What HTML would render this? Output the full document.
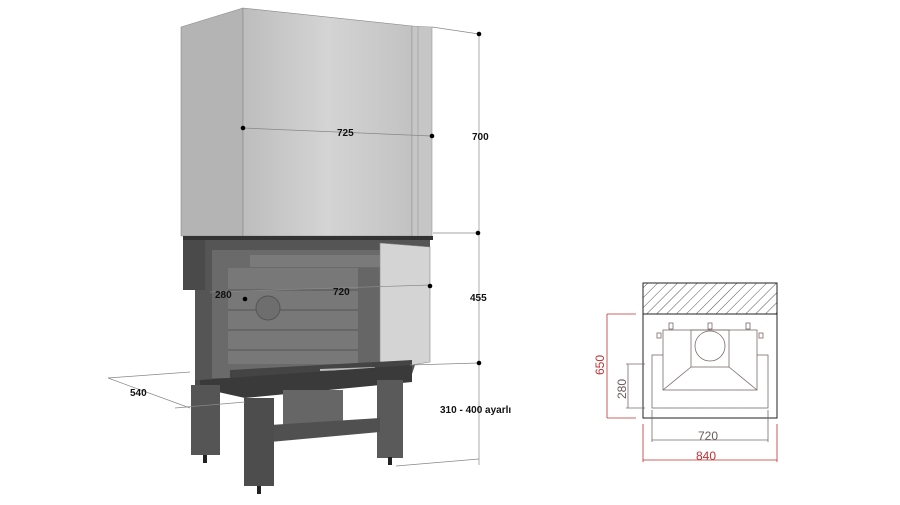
<!DOCTYPE html>
<html><head><style>body{margin:0;background:#fff}svg{display:block}text{font-family:"Liberation Sans",sans-serif}</style></head><body>
<svg width="900" height="505" viewBox="0 0 900 505">
<defs>
<linearGradient id="hf" x1="0" x2="1"><stop offset="0" stop-color="#bdbdbd"/><stop offset=".5" stop-color="#d4d4d4"/><stop offset="1" stop-color="#c2c2c2"/></linearGradient>
<pattern id="hatch" width="7" height="7" patternUnits="userSpaceOnUse" patternTransform="rotate(45)"><line x1="0" y1="0" x2="0" y2="7" stroke="#555" stroke-width="1"/></pattern>
</defs>
<!-- hood -->
<polygon points="181,27 243,8 243,236 181,236" fill="#b4b4b4" stroke="#888" stroke-width=".6"/>
<polygon points="243,8 412,26 412,236 243,236" fill="url(#hf)" stroke="#888" stroke-width=".6"/>
<polygon points="412,26 432,27 432,236 412,236" fill="#c6c6c6" stroke="#999" stroke-width=".6"/>
<line x1="418" y1="26" x2="418" y2="236" stroke="#999" stroke-width=".6"/>
<!-- firebox -->
<rect x="183" y="236" width="250" height="4" fill="#333"/>
<polygon points="183,240 210,240 210,390 195,385 195,290 183,290" fill="#4a4a4a"/>
<rect x="195" y="290" width="15" height="90" fill="#555"/>
<polygon points="205,240 430,240 430,250 415,250 415,365 410,380 230,390 205,385" fill="#555"/>
<rect x="212" y="250" width="200" height="128" fill="#6a6a6a"/>
<rect x="250" y="255" width="150" height="12" fill="#7a7a7a"/>
<rect x="228" y="268" width="130" height="96" fill="#787878"/>
<g stroke="#5c5c5c" stroke-width="1.2"><line x1="228" y1="290" x2="358" y2="290"/><line x1="228" y1="310" x2="358" y2="310"/><line x1="228" y1="330" x2="358" y2="330"/><line x1="228" y1="350" x2="358" y2="350"/></g>
<circle cx="268" cy="308" r="12" fill="#6e6e6e" stroke="#555"/>
<rect x="358" y="268" width="22" height="100" fill="#666"/>
<polygon points="380,243 430,247 430,362 380,370" fill="#d4d4d4" stroke="#888" stroke-width=".6"/>
<polygon points="230,370 412,360 412,378 230,392" fill="#444"/>
<line x1="320" y1="370" x2="375" y2="368" stroke="#bbb" stroke-width="2"/>
<polygon points="200,380 412,365 412,382 245,398 200,388" fill="#3a3a3a"/>
<!-- legs -->
<rect x="191" y="385" width="29" height="70" fill="#555"/>
<rect x="377" y="380" width="26" height="78" fill="#5a5a5a"/>
<rect x="283" y="390" width="60" height="35" fill="#666"/>
<polygon points="270,425 380,418 380,432 270,442" fill="#505050"/>
<rect x="244" y="398" width="30" height="88" fill="#4d4d4d"/>
<g fill="#222"><rect x="203" y="455" width="4" height="8"/><rect x="257" y="486" width="4" height="8"/><rect x="388" y="457" width="4" height="8"/></g>
<!-- dimensions -->
<g stroke="#888" stroke-width=".7" fill="none">
<line x1="243" y1="128" x2="432" y2="136"/>
<line x1="432" y1="27" x2="479" y2="34"/>
<line x1="479" y1="34" x2="479" y2="465"/>
<line x1="433" y1="233" x2="479" y2="233"/>
<line x1="430" y1="285" x2="210" y2="292"/>
<line x1="410" y1="365" x2="479" y2="363"/>
<line x1="396" y1="466" x2="479" y2="459"/>
<line x1="108" y1="378" x2="190" y2="372"/>
<line x1="108" y1="378" x2="190" y2="408"/>
<line x1="175" y1="408" x2="245" y2="402"/>
</g>
<g fill="#000"><circle cx="243" cy="128" r="2.3"/><circle cx="432" cy="136" r="2.3"/><circle cx="479" cy="34" r="2.3"/><circle cx="478" cy="233" r="2.3"/><circle cx="479" cy="363" r="2.3"/><circle cx="430" cy="286" r="2.3"/><circle cx="245" cy="299" r="2.3"/></g>
<g font-size="10" font-weight="bold" fill="#111">
<text x="337" y="136">725</text><text x="472" y="140">700</text><text x="470" y="301">455</text>
<text x="215" y="298">280</text><text x="333" y="295">720</text><text x="130" y="396">540</text>
<text x="440" y="413">310 - 400 ayarlı</text></g>
<!-- plan -->
<rect x="643" y="283" width="134" height="31" fill="url(#hatch)" stroke="#222" stroke-width="1"/>
<rect x="643" y="283" width="134" height="135" fill="none" stroke="#222" stroke-width="1"/>
<g stroke="#7a6a6a" stroke-width=".8" fill="none">
<rect x="652" y="355" width="116" height="53"/>
<rect x="663" y="330" width="94" height="60" fill="#fff"/>
<rect x="691" y="330" width="38" height="37"/>
<circle cx="710" cy="346" r="15"/>
<polyline points="691,367 663,390"/><polyline points="729,367 757,390"/>
<rect x="669" y="323" width="4" height="6"/><rect x="708" y="323" width="4" height="6"/><rect x="746" y="323" width="4" height="6"/>
<rect x="657" y="333" width="4" height="5"/><rect x="759" y="333" width="4" height="5"/>
<line x1="626" y1="364" x2="645" y2="364"/><line x1="626" y1="408" x2="645" y2="408"/><line x1="628" y1="364" x2="628" y2="408"/>
<line x1="652" y1="410" x2="652" y2="442"/><line x1="768" y1="410" x2="768" y2="442"/><line x1="652" y1="440" x2="768" y2="440"/>
</g>
<g stroke="#c03030" stroke-width=".8" fill="none">
<line x1="607" y1="314" x2="636" y2="314"/><line x1="607" y1="418" x2="636" y2="418"/><line x1="607" y1="314" x2="607" y2="418"/>
<line x1="643" y1="424" x2="643" y2="462"/><line x1="777" y1="424" x2="777" y2="462"/><line x1="643" y1="460" x2="777" y2="460"/>
</g>
<text x="698" y="440" font-size="12" fill="#6a5a5a">720</text>
<text x="696" y="460" font-size="12" fill="#c03030">840</text>
<text transform="translate(604,375) rotate(-90)" font-size="12" fill="#c03030">650</text>
<text transform="translate(626,399) rotate(-90)" font-size="12" fill="#6a5a5a">280</text>
</svg>
</body></html>
